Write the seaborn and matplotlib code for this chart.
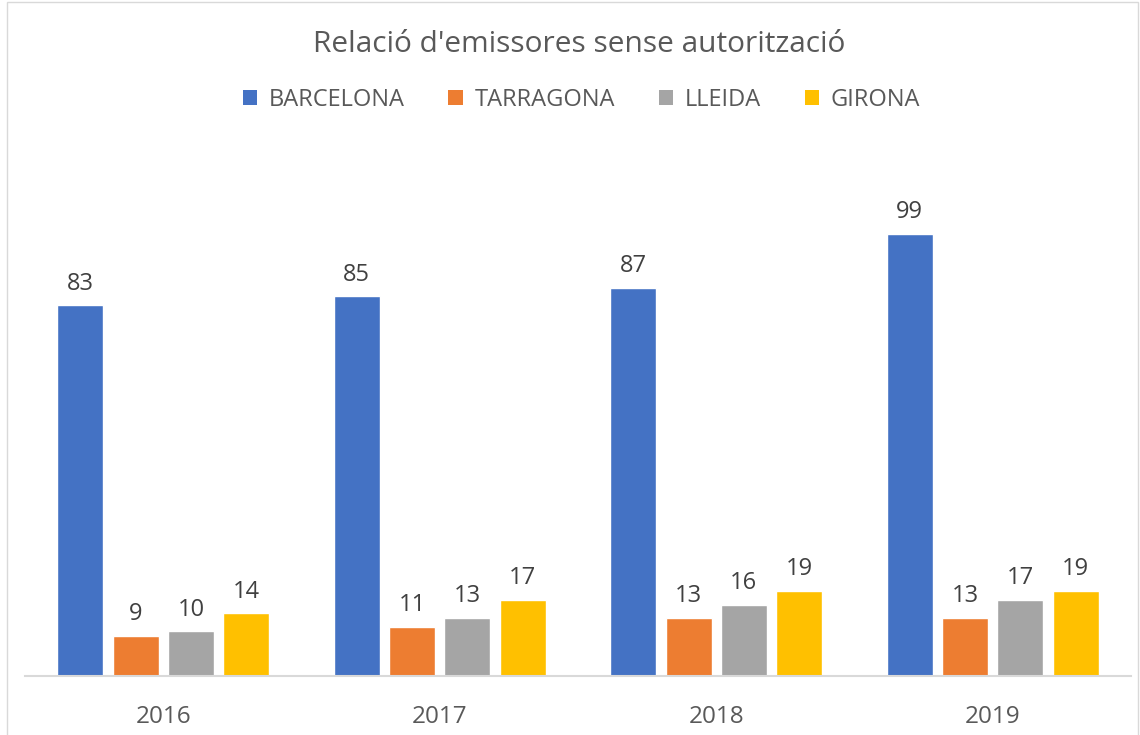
import numpy as np
import pandas as pd
import matplotlib
matplotlib.use("Agg")
import matplotlib.pyplot as plt
from matplotlib.patches import Rectangle
import seaborn as sns

years = ["2016", "2017", "2018", "2019"]
provinces = ["BARCELONA", "TARRAGONA", "LLEIDA", "GIRONA"]
barcelona = [83, 85, 87, 99]
tarragona = [9, 11, 13, 13]
lleida = [10, 13, 16, 17]
girona = [14, 17, 19, 19]
colors = ["#4472C4", "#ED7D31", "#A5A5A5", "#FFC000"]

df = pd.DataFrame({
    "year": years * 4,
    "province": np.repeat(provinces, 4),
    "value": barcelona + tarragona + lleida + girona,
})

sns.set_style("white")
plt.rcParams["font.family"] = ["Open Sans", "DejaVu Sans"]
TXT = "#595959"

fig = plt.figure(figsize=(11.4, 7.35), dpi=100)
ax = fig.add_axes([0.022, 0.0803, 0.97, 0.729])

sns.barplot(data=df, x="year", y="value", hue="province", order=years,
            hue_order=provinces, palette=colors, width=0.8, gap=0.17,
            saturation=1, ax=ax, legend=False)

for cont in ax.containers:
    ax.bar_label(cont, padding=7, fontsize=17, color="#404040")

ax.set_ylim(0, 120)
ax.set_xlim(-0.5, 3.5)
ax.set_xlabel("")
ax.set_ylabel("")
ax.set_yticks([])
ax.tick_params(axis="x", length=0, labelsize=17.5, labelcolor=TXT, pad=21)
for s in ["top", "right", "left"]:
    ax.spines[s].set_visible(False)
ax.spines["bottom"].set_color("#D9D9D9")
ax.spines["bottom"].set_linewidth(1.5)

fig.text(0.508, 0.94, "Relació d'emissores sense autorització",
         ha="center", va="center", fontsize=21.5, color=TXT)

handles = [Rectangle((0, 0), 1, 1, facecolor=c, edgecolor="none") for c in colors]
fig.legend(handles, provinces, loc="center", bbox_to_anchor=(0.51, 0.864),
           ncol=4, frameon=False, fontsize=17, handlelength=0.6,
           handleheight=0.6, handletextpad=0.5, columnspacing=1.85,
           labelcolor=TXT)

fig.patches.append(Rectangle((0.006, -0.01), 0.992, 1.007, transform=fig.transFigure,
                             fill=False, edgecolor="#D9D9D9", linewidth=1))

fig.savefig("out.png", dpi=100)
